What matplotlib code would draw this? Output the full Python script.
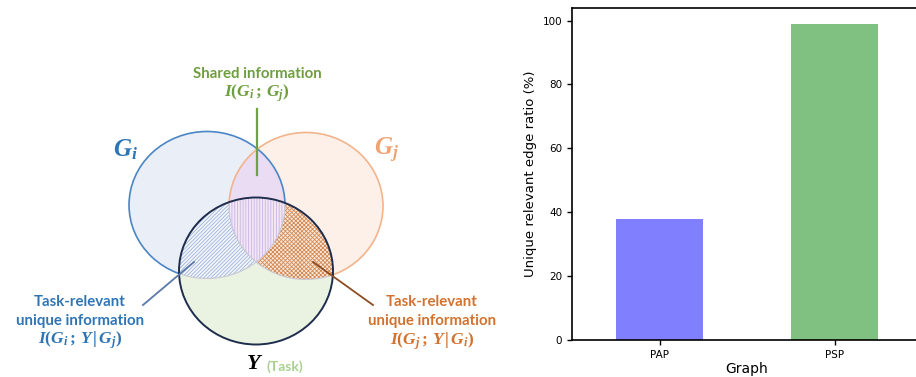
import numpy as np
import matplotlib
matplotlib.use("Agg")
import matplotlib.pyplot as plt
from matplotlib.patches import Ellipse, Polygon

plt.rcParams['mathtext.fontset'] = 'custom'
plt.rcParams['mathtext.it'] = 'Liberation Serif:italic:bold'
plt.rcParams['mathtext.rm'] = 'Liberation Serif:bold'
plt.rcParams['mathtext.bf'] = 'Liberation Serif:bold'
plt.rcParams['hatch.linewidth'] = 0.6

# bar chart data
graphs = ['PAP', 'PSP']
unique_ratio = [37.8, 99.0]
bar_colors = ['#8080ff', '#80c080']

# venn circles (pixel layout of the left panel): centre x, centre y, width, height
venn_gi = (207, 205, 156, 147)
venn_gj = (306, 206, 154, 147)
venn_y = (256, 271, 154, 147)

fig = plt.figure(figsize=(9.16, 3.77), dpi=100)

# ---------------- left: venn diagram ----------------
ax = fig.add_axes([0, 0, 500 / 916, 1])
ax.set_xlim(0, 500)
ax.set_ylim(377, 0)
ax.axis('off')


def ell(c, **kw):
    return Ellipse((c[0], c[1]), c[2], c[3], transform=ax.transData, **kw)


def inside(c, px, py, tol=1e-3):
    return ((px - c[0]) / (c[2] / 2)) ** 2 + ((py - c[1]) / (c[3] / 2)) ** 2 <= 1 + tol


def intersection(circles):
    # boundary points of each ellipse that lie in all the others (convex region)
    t = np.linspace(0, 2 * np.pi, 2000)
    pts = []
    for c in circles:
        px = c[0] + c[2] / 2 * np.cos(t)
        py = c[1] + c[3] / 2 * np.sin(t)
        ok = np.ones_like(t, dtype=bool)
        for o in circles:
            if o is not c:
                ok &= inside(o, px, py)
        pts.append(np.column_stack([px[ok], py[ok]]))
    pts = np.vstack(pts)
    m = pts.mean(axis=0)
    ang = np.arctan2(pts[:, 1] - m[1], pts[:, 0] - m[0])
    return pts[np.argsort(ang)]


ax.add_patch(ell(venn_gi, facecolor='#e9eef7', edgecolor='none'))
ax.add_patch(ell(venn_gj, facecolor='#fdf0e8', edgecolor='none'))
ax.add_patch(Polygon(intersection([venn_gi, venn_gj]), closed=True,
                     facecolor='#eadcf3', edgecolor='none'))
ax.add_patch(ell(venn_gi, facecolor='none', edgecolor='#4a86c5', lw=1.2))
ax.add_patch(ell(venn_gj, facecolor='none', edgecolor='#f2b48c', lw=1.2))

# task circle and hatched regions
ax.add_patch(ell(venn_y, facecolor='#eaf3e2', edgecolor='none'))
p = ell(venn_y, facecolor='#f3f5fb', edgecolor='#9cb4de', lw=0, hatch='/////////')
ax.add_patch(p)
p.set_clip_path(ell(venn_gi))
p = ell(venn_y, facecolor='#fae9dc', edgecolor='#d38a55', lw=0, hatch='xxxxxxxx')
ax.add_patch(p)
p.set_clip_path(ell(venn_gj))
ax.add_patch(Polygon(intersection([venn_gi, venn_gj, venn_y]), closed=True,
                     facecolor='#f1e6f6', edgecolor='#cdb4e0', lw=0, hatch='||||||'))
for c in (venn_gi, venn_gj):
    p = ell(c, facecolor='none', edgecolor='#c9c9d3', lw=0.8)
    ax.add_patch(p)
    p.set_clip_path(ell(venn_y))
ax.add_patch(ell(venn_y, facecolor='none', edgecolor='#1f2d4d', lw=1.4))

# pointers
ax.plot([257, 257], [109, 175], color='#72a044', lw=1.6)
ax.plot([143, 194], [305, 262], color='#5a78a8', lw=1.3)
ax.plot([313, 373], [262, 305], color='#8e4c22', lw=1.3)

# labels
green, blue, orange = '#6e9e3e', '#2e75b6', '#d2722e'
tfont = dict(family=['Lato', 'DejaVu Sans'], fontweight='bold', fontsize=10.8)
ax.text(257, 74, 'Shared information', color=green, ha='center', va='center', **tfont)
ax.text(257, 93, r'$I(G_i\,;\,G_j)$', color=green, ha='center', va='center', fontsize=12.5)
ax.text(125, 150, r'$G_i$', color=blue, ha='center', va='center', fontsize=18)
ax.text(386, 150, r'$G_j$', color='#f0a474', ha='center', va='center', fontsize=18)
ax.text(80, 302, 'Task-relevant', color=blue, ha='center', va='center', **tfont)
ax.text(80, 321, 'unique information', color=blue, ha='center', va='center', **tfont)
ax.text(80, 340, r'$I(G_i\,;\,Y\,|\,G_j)$', color=blue, ha='center', va='center', fontsize=12.5)
ax.text(432, 302, 'Task-relevant', color=orange, ha='center', va='center', **tfont)
ax.text(432, 321, 'unique information', color=orange, ha='center', va='center', **tfont)
ax.text(432, 341, r'$I(G_j\,;\,Y\,|\,G_i)$', color=orange, ha='center', va='center', fontsize=12.5)
ax.text(255, 363, r'$Y$', color='black', ha='center', va='center', fontsize=16)
ax.text(266, 367, '(Task)', color='#a9d18e', ha='left', va='center',
        family=['Lato', 'DejaVu Sans'], fontweight='bold', fontsize=10)

# ---------------- right: bar chart ----------------
bx = fig.add_axes([572 / 916, 37 / 377, 350 / 916, 332 / 377])
bx.bar(graphs, unique_ratio, width=0.5, color=bar_colors)
bx.set_xlim(-0.5, 1.5)
bx.set_ylim(0, 103.95)
bx.set_yticks([0, 20, 40, 60, 80, 100])
bx.tick_params(labelsize=7.5, length=3.5, width=1)
bx.set_xlabel('Graph', fontsize=10, labelpad=2)
bx.set_ylabel('Unique relevant edge ratio (%)', fontsize=9.5)
for s in bx.spines.values():
    s.set_linewidth(1.2)

fig.savefig('out.png', dpi=100)
